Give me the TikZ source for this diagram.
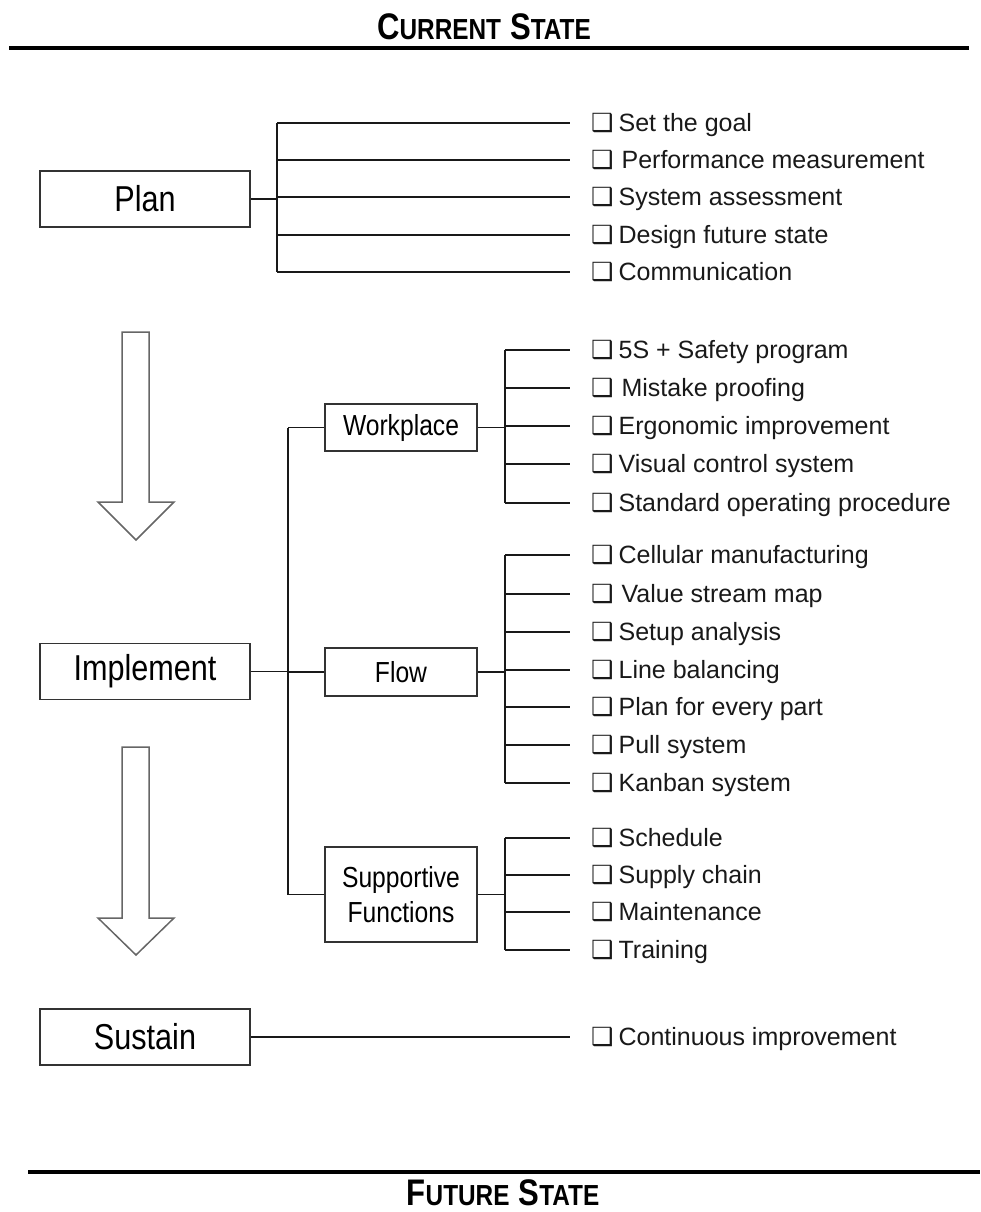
\documentclass[tikz,border=0pt]{standalone}
\usepackage{fontspec}
\setmainfont{Liberation Sans}
\newfontfamily\narrowfont[FakeStretch=0.85]{Liberation Sans}
\newfontfamily\titlefont[FakeStretch=0.84]{Liberation Sans}
\newfontfamily\dingfont{DejaVu Sans}
\newcommand\chkbox{{\dingfont\fontsize{25}{25}\selectfont ❑}}
\newcommand\hdcapbig[1]{{\fontsize{37}{37}\selectfont #1}}
\newcommand\hdcapsmall[1]{{\fontsize{29}{29}\selectfont #1}}
\begin{document}
\begin{tikzpicture}[x=1pt,y=-1pt,
  line/.style={draw=black!90,line width=1.7pt},
  mainbox/.style={draw=black!80,line width=1.6pt,minimum width=210pt,minimum height=56pt,inner sep=0pt,
    font=\narrowfont\fontsize{36}{40}\selectfont},
  subbox/.style={draw=black!80,line width=1.6pt,minimum width=152pt,inner sep=0pt,align=center,
    font=\narrowfont\fontsize{29}{35}\selectfont},
  item/.style={anchor=west,inner sep=0pt,text height=17pt,text depth=0pt,
    font=\fontsize{25}{28}\selectfont,text=black!90},
  bigarrow/.style={draw=black!60,line width=1.5pt,fill=white,line join=miter}]
\useasboundingbox (0,0) rectangle (980,1212);

% headings and rules
\node[anchor=base,font=\titlefont\bfseries,inner sep=0pt] (cur) at (484,40)
  {\hdcapbig{C}\hdcapsmall{URRENT}\hspace{9pt}\hdcapbig{S}\hdcapsmall{TATE}};
\draw[line width=4pt] (9,48) -- (969,48);
\draw[line width=4pt] (28,1172) -- (980,1172);
\node[anchor=base,font=\titlefont\bfseries,inner sep=0pt] (fut) at (503,1205)
  {\hdcapbig{F}\hdcapsmall{UTURE}\hspace{9pt}\hdcapbig{S}\hdcapsmall{TATE}};

% phase arrows
\draw[bigarrow] (122,332) -- (149,332) -- (149,502) -- (174,502) -- (136,540) -- (98,502) -- (122,502) -- cycle;
\draw[bigarrow] (122,747) -- (149,747) -- (149,918) -- (174,918) -- (136,955) -- (98,918) -- (122,918) -- cycle;

% phases
\node[mainbox] (plan) at (145,199) {Plan};
\node[mainbox] (impl) at (145,671.5) {Implement};
\node[mainbox] (sust) at (145,1037) {Sustain};

% implement sub-areas
\node[subbox,minimum height=47pt] (work) at (401,427.5) {Workplace};
\node[subbox,minimum height=48pt] (flow) at (401,672) {Flow};
\node[subbox,minimum height=95pt] (supp) at (401,894.5) {Supportive\\Functions};

% plan items
\foreach \n/\y/\t in {p1/123/{Set the goal},p2/160/{\hspace{3pt}Performance measurement},
  p3/197/{System assessment},p4/235/{Design future state},p5/272/{Communication}}
  \node[item] (\n) at (570,\y) {\hspace{21pt}\chkbox\hspace{5pt}\t};

% workplace items
\foreach \n/\y/\t in {w1/350/{5S + Safety program},w2/388/{\hspace{3pt}Mistake proofing},
  w3/426/{Ergonomic improvement},w4/464/{Visual control system},w5/503/{Standard operating procedure}}
  \node[item] (\n) at (570,\y) {\hspace{21pt}\chkbox\hspace{5pt}\t};

% flow items
\foreach \n/\y/\t in {f1/555/{Cellular manufacturing},f2/594/{\hspace{3pt}Value stream map},
  f3/632/{Setup analysis},f4/670/{Line balancing},f5/707/{Plan for every part},
  f6/745/{Pull system},f7/783/{Kanban system}}
  \node[item] (\n) at (570,\y) {\hspace{21pt}\chkbox\hspace{5pt}\t};

% supportive items
\foreach \n/\y/\t in {s1/838/{Schedule},s2/875/{Supply chain},s3/912/{Maintenance},s4/950/{Training}}
  \node[item] (\n) at (570,\y) {\hspace{21pt}\chkbox\hspace{5pt}\t};

% sustain item
\node[item] (c1) at (570,1037) {\hspace{21pt}\chkbox\hspace{5pt}Continuous improvement};

% bus coordinates
\coordinate (pb) at (277,199);
\coordinate (ib) at (288,671.5);
\coordinate (wb) at (505,427.5);
\coordinate (fb) at (505,672);
\coordinate (sb) at (505,894.5);

% plan connectors
\draw[line] (plan.east) -- (pb);
\draw[line] (pb |- p1) -- (pb |- p5);
\foreach \n in {p1,p2,p3,p4,p5} \draw[line] (pb |- \n) -- (\n.west);

% implement connectors
\draw[line] (impl.east) -- (ib);
\draw[line] (ib |- work) -- (ib |- supp);
\draw[line] (ib |- work) -- (work.west);
\draw[line] (ib |- flow) -- (flow.west);
\draw[line] (ib |- supp) -- (supp.west);

\draw[line] (work.east) -- (wb);
\draw[line] (wb |- w1) -- (wb |- w5);
\foreach \n in {w1,w2,w3,w4,w5} \draw[line] (wb |- \n) -- (\n.west);

\draw[line] (flow.east) -- (fb);
\draw[line] (fb |- f1) -- (fb |- f7);
\foreach \n in {f1,f2,f3,f4,f5,f6,f7} \draw[line] (fb |- \n) -- (\n.west);

\draw[line] (supp.east) -- (sb);
\draw[line] (sb |- s1) -- (sb |- s4);
\foreach \n in {s1,s2,s3,s4} \draw[line] (sb |- \n) -- (\n.west);

% sustain connector
\draw[line] (sust.east) -- (c1.west);
\end{tikzpicture}
\end{document}
